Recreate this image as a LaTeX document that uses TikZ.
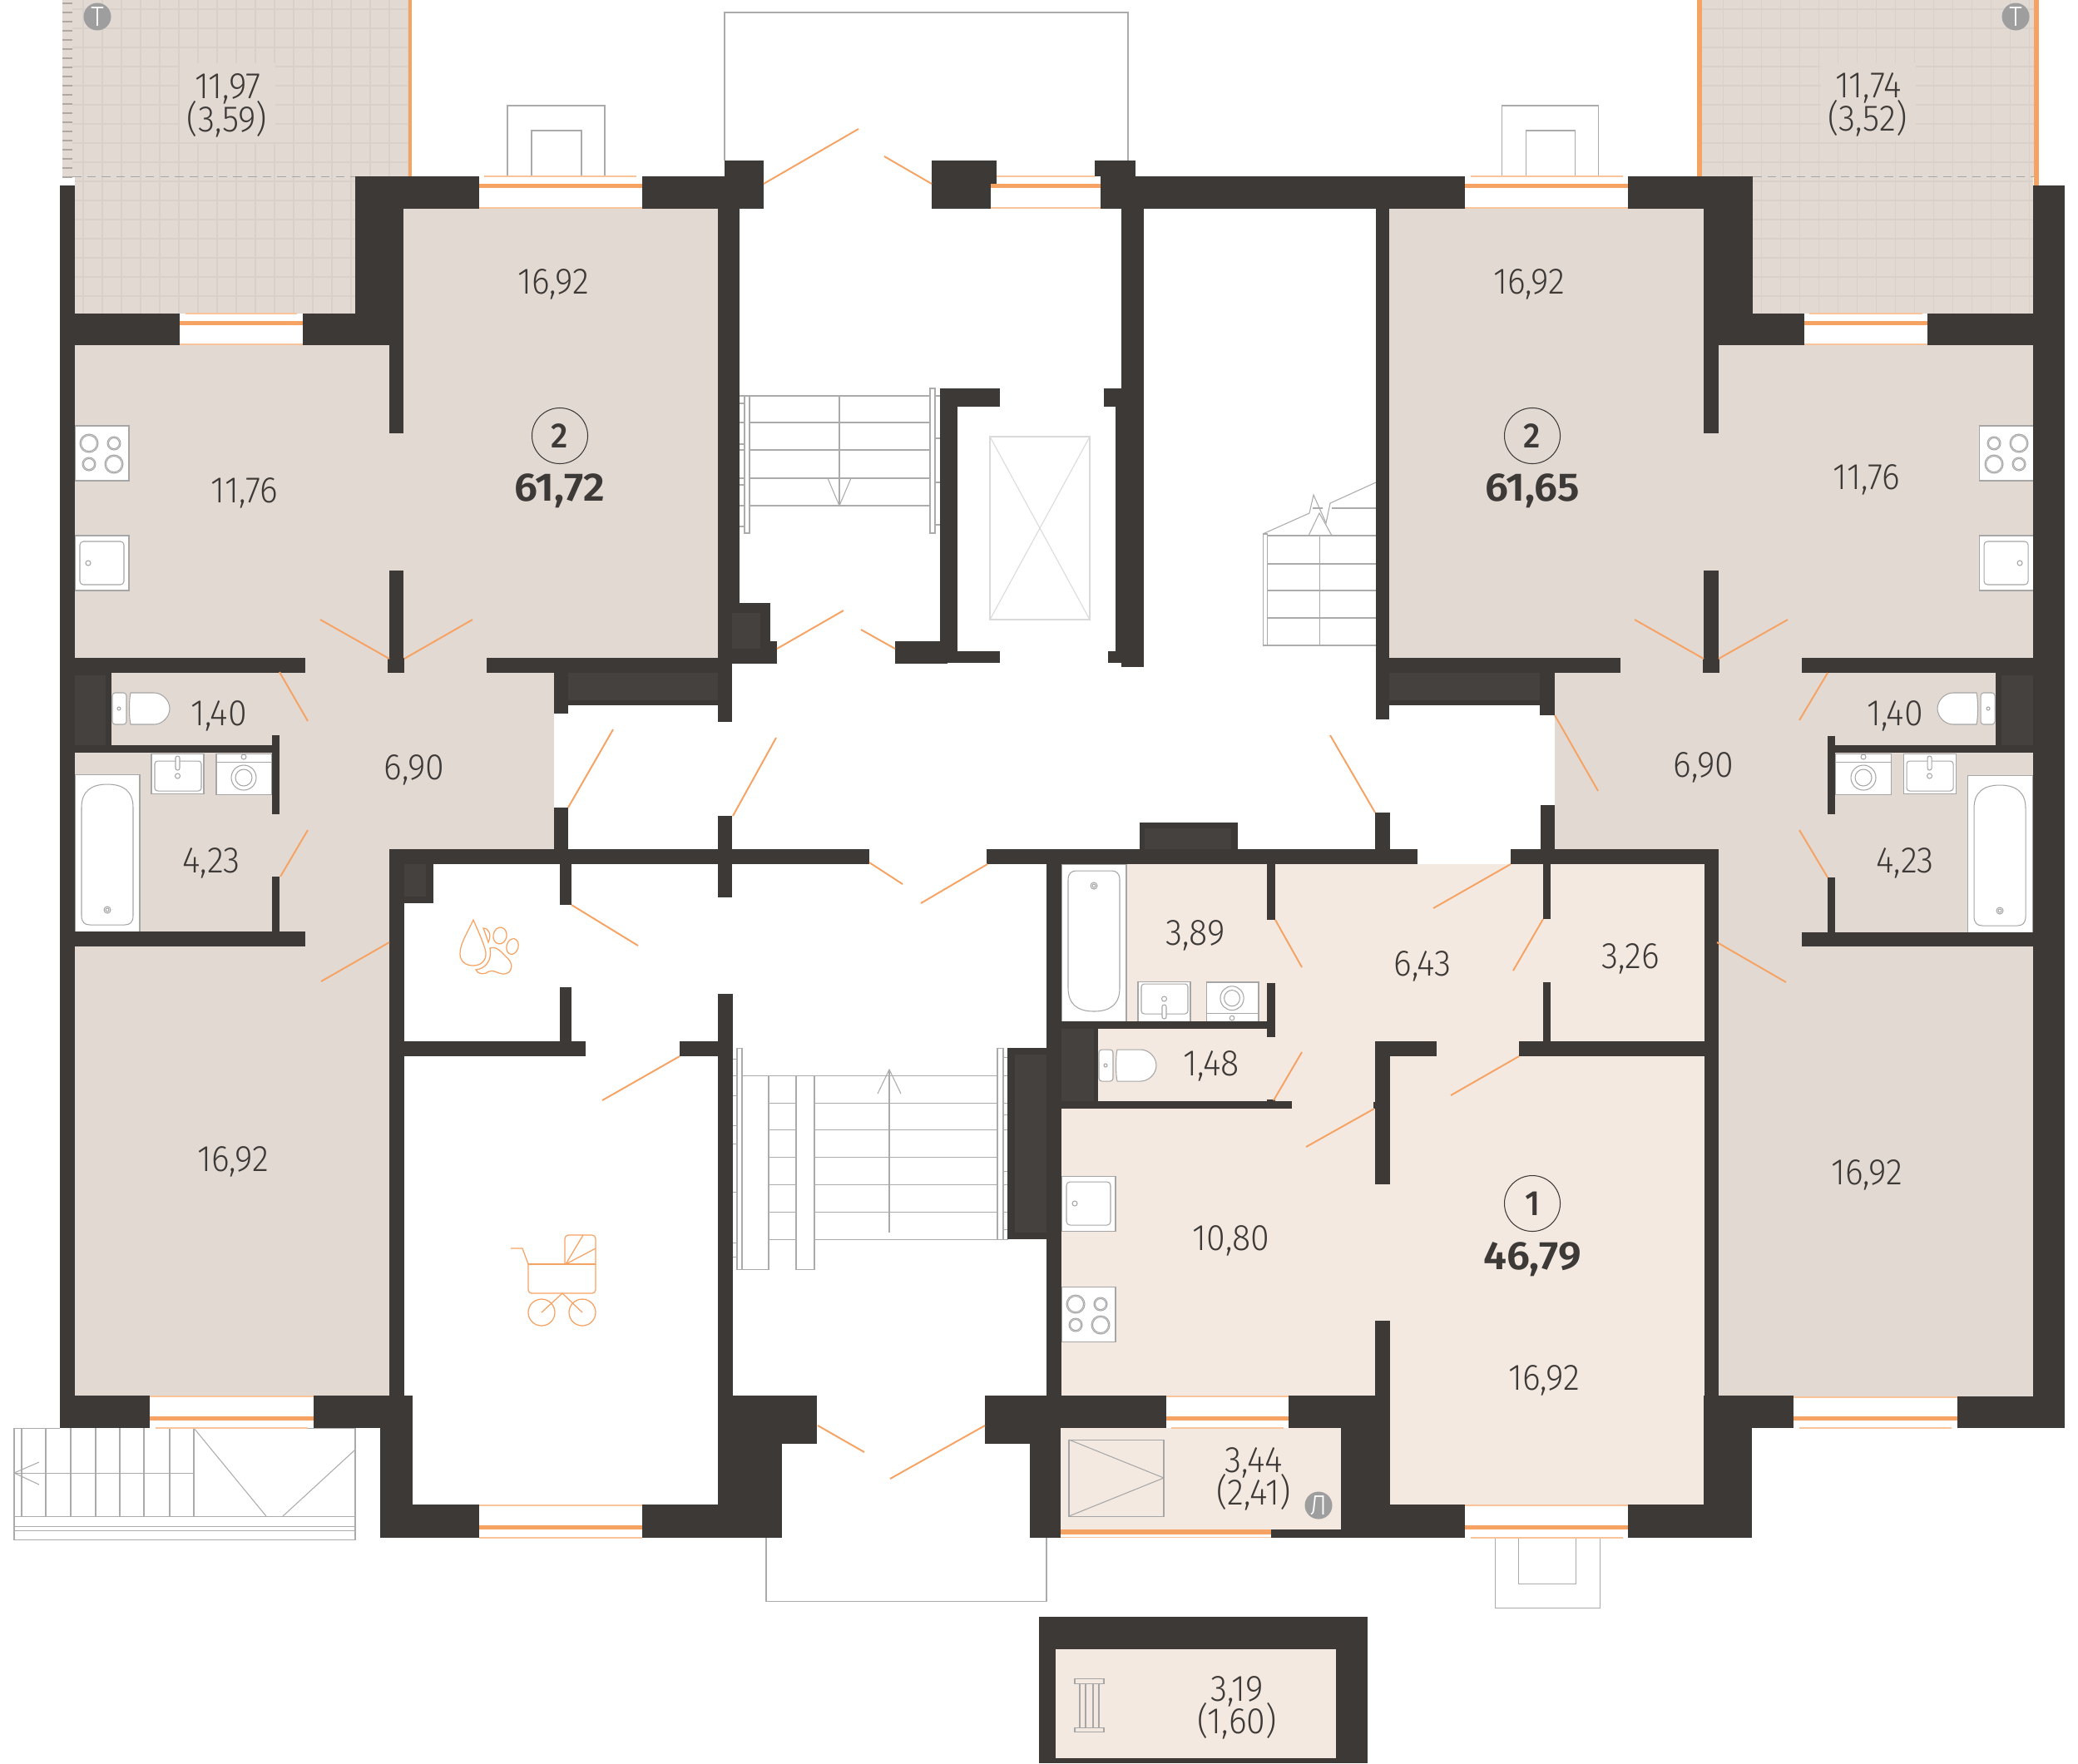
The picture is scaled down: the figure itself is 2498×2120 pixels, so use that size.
\documentclass[tikz,border=0pt]{standalone}
\usepackage{fontspec}
\newfontfamily\labfont[FakeStretch=0.93]{Fira Sans Light}
\newfontfamily\boldlab[FakeStretch=1.05]{Fira Sans SemiBold}
\newfontfamily\numfont[FakeStretch=0.95]{Fira Sans Medium}
\definecolor{wallc}{HTML}{3D3937}
\definecolor{walll}{HTML}{45413F}
\definecolor{roomc}{HTML}{E2D9D3}
\definecolor{roomb}{HTML}{F3E9E1}
\definecolor{gridc}{HTML}{D9D0CA}
\definecolor{orng}{HTML}{F6A262}
\definecolor{orngl}{HTML}{F9C49A}
\definecolor{fixc}{HTML}{A6A6A6}
\definecolor{stairc}{HTML}{ABABAB}
\definecolor{liftc}{HTML}{DADADA}
\definecolor{badge}{HTML}{9E9E9E}
\newcommand{\wl}[4]{\fill[wallc] (#1,#2) rectangle (#3,#4);}
\newcommand{\wlt}[4]{\fill[walll] (#1,#2) rectangle (#3,#4);}
\newcommand{\doorl}[4]{\draw[doorline] (#1,#2) -- (#3,#4);}
\newcommand{\winn}[8]{%
  \fill[white] (#1,#7) rectangle (#2,#8);
  \fill[white] (#3,#5) rectangle (#4,#6);
  \fill[orng] (#1,#6) rectangle (#2,#7);
  \draw[orngl,line width=.5pt] (#3,#5) -- (#4,#5);
  \draw[orngl,line width=.5pt] (#1,#8) -- (#2,#8);}
\newcommand{\fx}[5]{\path[shift={(#1,#2)},xscale=#3,yscale=#4] pic[transform shape] {#5};}
\tikzset{
  doorline/.style={draw=orng,line width=.55pt},
  fixt/.style={draw=fixc,fill=white,line width=.3pt},
  fixo/.style={draw=fixc,line width=.3pt},
  stairl/.style={draw=stairc,line width=.3pt},
  icon/.style={draw=orng,line width=.35pt},
  lab/.style={text=wallc,inner sep=0pt,yshift=-.8pt,font=\labfont\fontsize{12.6}{14}\selectfont},
  big/.style={text=wallc,inner sep=0pt,yshift=-.6pt,font=\boldlab\fontsize{13.6}{15}\selectfont},
  num/.style={text=wallc,inner sep=0pt,font=\numfont\fontsize{12}{14}\selectfont},
  ringc/.style={draw=wallc,line width=.3pt,circle,minimum size=.67cm,inner sep=0pt},
  tag/.style={fill=badge,circle,minimum size=.33cm,inner sep=0pt,text=white,font=\labfont\fontsize{9.5}{10}\selectfont},
  toilet/.pic={
    \filldraw[fixt,rounded corners=1pt] (0,0) rectangle (17,38);
    \draw[fixo] (8,19) circle[radius=2];
    \filldraw[fixt] (22,0) -- (50,0) .. controls (60,0) and (69,9) .. (69,19) .. controls (69,29) and (60,38) .. (50,38) -- (22,38) .. controls (20,30) and (20,8) .. (22,0) -- cycle;
  },
  sinkb/.pic={
    \filldraw[fixt] (0,0) rectangle (63,48);
    \draw[fixo,rounded corners=1pt] (4,9) rectangle (60,45);
    \filldraw[fixt,rounded corners=.7pt] (29,3) rectangle (34,20);
    \draw[fixo] (31.5,27) circle[radius=3];
  },
  washer/.pic={
    \filldraw[fixt] (0,0) rectangle (67,49);
    \draw[fixo] (0,10) -- (67,10);
    \draw[fixo] (33,4) circle[radius=3];
    \draw[fixo] (33,29) circle[radius=15];
    \draw[fixo] (33,29) circle[radius=10];
  },
  bath/.pic={
    \filldraw[fixt] (0,0) rectangle (78,189);
    \draw[fixo] (8,40) .. controls (8,20) and (20,12) .. (39,12) .. controls (58,12) and (70,20) .. (70,40) -- (70,170) .. controls (70,178) and (66,181) .. (60,181) -- (18,181) .. controls (12,181) and (8,178) .. (8,170) -- cycle;
    \draw[fixo] (39,163) circle[radius=4];
    \draw[fixo] (39,163) circle[radius=2];
  },
  cooktop/.pic={
    \filldraw[fixt] (0,0) rectangle (65,66);
    \foreach \cx/\cy/\cr in {17/21/11,47/21/8,17/46/8,47/46/11}{
      \draw[fixo] (\cx,\cy) circle[radius=\cr];
      \draw[fixo] (\cx,\cy) circle[radius=\cr-1.5];
    }
  },
  ksink/.pic={
    \filldraw[fixt] (0,0) rectangle (65,66);
    \draw[fixo,rounded corners=1.2pt] (6,7) rectangle (59,59);
    \draw[fixo] (16,33) circle[radius=3];
  },
  x=0.01cm,y=-0.01cm
}
\begin{document}
\begin{tikzpicture}
\useasboundingbox (0,0) rectangle (2498,2120);
\fill[white] (0,0) rectangle (2498,2120);
% apartment floors
\fill[roomc] (485,251) rectangle (863,791);
\fill[roomc] (90,415) rectangle (485,791);
\fill[roomc] (90,791) rectangle (666,1021);
\fill[roomc] (90,1021) rectangle (468,1678);
\fill[roomc] (1670,251) rectangle (2048,791);
\fill[roomc] (2048,415) rectangle (2444,791);
\fill[roomc] (1869,791) rectangle (2444,1021);
\fill[roomc] (2066,1021) rectangle (2444,1679);
\fill[roomb] (1276,1039) rectangle (2049,1678);
\fill[roomb] (1671,1678) rectangle (2049,1809);
\fill[roomb] (1275,1717) rectangle (1612,1839);
% terraces
\fill[roomc] (75,0) rectangle (491,212);
\fill[roomc] (90,212) rectangle (427,377);
\fill[roomc] (2046,0) rectangle (2445,212);
\fill[roomc] (2107,212) rectangle (2444,377);
\begin{scope}
\clip (87,0) rectangle (491,212) (90,212) rectangle (427,377);
\foreach \k in {0,...,17} \draw[gridc,line width=.3pt] (100+23*\k,0) -- (100+23*\k,377);
\foreach \k in {0,...,15} \draw[gridc,line width=.3pt] (87,11+23*\k) -- (491,11+23*\k);
\end{scope}
\begin{scope}
\clip (2046,0) rectangle (2445,212) (2107,212) rectangle (2444,377);
\foreach \k in {0,...,17} \draw[gridc,line width=.3pt] (2071+23*\k,0) -- (2071+23*\k,377);
\foreach \k in {0,...,15} \draw[gridc,line width=.3pt] (2046,11+23*\k) -- (2445,11+23*\k);
\end{scope}
\fill[roomc] (216,76) rectangle (331,171);
\fill[roomc] (2189,76) rectangle (2303,169);
\foreach \k in {0,...,20} \draw[gridc!80!black,line width=.3pt] (75,4+11*\k) -- (87,4+11*\k);
\draw[fixc,line width=.3pt,dash pattern=on 3pt off 2pt] (87,212.5) -- (427,212.5);
\draw[fixc,line width=.3pt,dash pattern=on 3pt off 2pt] (2107,212.5) -- (2445,212.5);
\fill[orng] (491,0) rectangle (495,212);
\fill[orng] (2040,0) rectangle (2046,212);
\fill[orng] (2445,0) rectangle (2451,223);
% thin outlines outside the building
\draw[stairc,line width=.3pt] (871,193) -- (871,15) -- (1356,15) -- (1356,193);
\draw[stairc,line width=.3pt] (610,212) -- (610,127) -- (727,127) -- (727,212);
\draw[stairc,line width=.3pt] (639,212) -- (639,157) -- (699,157) -- (699,212);
\draw[stairc,line width=.3pt] (1805,212) -- (1805,127) -- (1921,127) -- (1921,212);
\draw[stairc,line width=.3pt] (1834,212) -- (1834,157) -- (1893,157) -- (1893,212);
\draw[stairc,line width=.3pt] (921,1849) -- (921,1925) -- (1258,1925) -- (1258,1849);
\draw[stairc,line width=.3pt] (1797,1849) -- (1797,1933) -- (1923,1933) -- (1923,1849);
\draw[stairc,line width=.3pt] (1825,1849) -- (1825,1904) -- (1894,1904) -- (1894,1849);
% upper left stair
\foreach \yy in {476,508,541,575,608} \draw[stairl] (889,\yy) -- (1118,\yy);
\draw[stairl] (1009,476) -- (1009,608);
\draw[stairl] (995,575) -- (1009,608) -- (1023,575);
\foreach \yy in {485,534,583,633} \draw[stairl] (889,\yy) -- (895,\yy);
\foreach \yy in {476,527,580,631} \draw[stairl] (1124,\yy) -- (1130,\yy);
\filldraw[stairl,fill=white] (895,476) rectangle (901,641);
\filldraw[stairl,fill=white] (1118,467) rectangle (1124,641);
% lift
\draw[liftc,line width=.3pt] (1190,525) rectangle (1310,745);
\draw[liftc,line width=.3pt] (1190,525) -- (1310,745) (1310,525) -- (1190,745);
% upper right stair
\foreach \yy in {644,678,710,743,776} \draw[stairl] (1523,\yy) -- (1654,\yy);
\draw[stairl] (1601,611) -- (1654,611);
\draw[stairl] (1578,611) -- (1590,611);
\draw[stairl] (1586,644) -- (1586,776);
\draw[stairl] (1518,642) rectangle (1523,776);
\draw[stairl] (1518,642) -- (1574,617) -- (1579,595) -- (1594,629) -- (1599,605) -- (1654,580);
\draw[stairl] (1573,644) -- (1586,617) -- (1601,644);
% lower central stair
\draw[stairl] (892,1293) -- (1199,1293);
\foreach \yy in {1326,1358,1391,1424,1457,1490}{\draw[stairl] (924,\yy) -- (957,\yy); \draw[stairl] (979,\yy) -- (1199,\yy);}
\draw[stairl] (924,1293) -- (924,1526) -- (892,1526);
\draw[stairl] (957,1293) -- (957,1526) -- (979,1526) -- (979,1293);
\draw[stairl] (1069,1286) -- (1069,1482);
\draw[stairl] (1055,1315) -- (1069,1286) -- (1083,1315);
\foreach \yy in {1273,1293,1317,1353,1375,1433,1494,1511} \draw[stairl] (881,\yy) -- (886,\yy);
\foreach \yy in {1271,1293,1326,1340,1358,1408,1424,1457,1478,1490} \draw[stairl] (1206,\yy) -- (1212,\yy);
\filldraw[stairl,fill=white] (886,1260) rectangle (892,1526);
\filldraw[stairl,fill=white] (1199,1260) rectangle (1206,1490);
% outer stair at bottom left
\foreach \xx in {26,55,85,115,144,173,204,233} \draw[stairl] (\xx,1717) -- (\xx,1823);
\draw[stairl] (17,1717) -- (72,1717);
\draw[stairl] (17,1717) -- (17,1851) -- (427,1851) -- (427,1717) -- (233,1717);
\draw[stairl] (17,1771) -- (233,1771);
\draw[stairl] (47,1758) -- (17,1771) -- (47,1785);
\draw[stairl] (233,1717) -- (320,1823);
\draw[stairl] (427,1743) -- (340,1823);
\draw[stairl] (17,1823) -- (427,1823);
\draw[stairl] (17,1835) rectangle (427,1840);
% fixtures, left apartment
\fx{135}{833}{1}{1}{toilet}
\fx{182}{906}{1}{1}{sinkb}
\fx{260}{906}{1}{1}{washer}
\fx{90}{931}{1}{1}{bath}
\fx{90}{512}{1}{1}{cooktop}
\fx{90}{644}{1}{1}{ksink}
% fixtures, right apartment
\fx{2398}{833}{-1}{1}{toilet}
\fx{2288}{906}{1}{1}{sinkb}
\fx{2273}{906}{-1}{1}{washer}
\fx{2365}{932}{1}{1}{bath}
\fx{2444}{512}{-1}{1}{cooktop}
\fx{2444}{644}{-1}{1}{ksink}
% fixtures, apartment 1
\fx{1321}{1262}{1}{1}{toilet}
\fx{1368}{1228}{1}{-1}{sinkb}
\fx{1450}{1228}{.94}{-.96}{washer}
\fx{1276}{1228}{1}{-1}{bath}
\fx{1276}{1547}{1}{1}{cooktop}
\fx{1276}{1414}{1}{1}{ksink}
% loggia shaft symbol
\draw[fixo] (1285,1731) rectangle (1399,1823);
\draw[fixo] (1285,1731) -- (1399,1777) -- (1285,1823);
% walls, left part
\wl{72}{223}{90}{1717}
\wl{427}{212}{576}{251}
\wl{427}{212}{485}{415}
\wl{468}{415}{485}{521}
\wl{772}{212}{918}{251}
\wl{871}{193}{918}{212}
\wl{863}{251}{889}{725}
\wl{90}{377}{216}{415}
\wl{364}{377}{468}{415}
\wl{468}{686}{485}{809}
\wl{466}{791}{486}{809}
\wl{90}{791}{367}{809}
\wl{585}{791}{880}{809}
\wl{90}{809}{134}{896}
\wlt{90}{812}{127}{896}
\wl{90}{896}{336}{905}
\wl{327}{884}{336}{979}
\wl{327}{1054}{336}{1120}
\wl{90}{1120}{367}{1138}
% walls, centre
\wl{863}{725}{926}{771}
\wl{863}{771}{934}{798}
\wlt{880}{737}{914}{780}
\wl{863}{791}{880}{868}
\wl{683}{809}{863}{848}
\wlt{683}{809}{863}{842}
\wl{666}{808}{683}{858}
\wl{863}{981}{880}{1079}
\wl{468}{1021}{1045}{1039}
\wl{666}{971}{683}{1021}
\wl{468}{1021}{486}{1717}
\wl{486}{1039}{521}{1086}
\wlt{486}{1039}{512}{1078}
\wl{673}{1039}{687}{1088}
\wl{673}{1187}{687}{1252}
\wl{486}{1252}{704}{1270}
\wl{817}{1252}{863}{1270}
\wl{863}{1195}{881}{1678}
\wl{863}{1021}{880}{1079}
\wl{1120}{193}{1198}{221}
\wl{1120}{212}{1191}{251}
\wl{1316}{193}{1365}{212}
\wl{1323}{212}{1761}{251}
\wl{1348}{251}{1375}{802}
\wl{1327}{467}{1348}{489}
\wl{1341}{489}{1348}{783}
\wl{1332}{783}{1357}{797}
\wl{1130}{467}{1151}{797}
\wl{1130}{467}{1202}{489}
\wl{1151}{783}{1202}{797}
\wl{1076}{771}{1139}{798}
\wl{1654}{212}{1670}{865}
% walls, right part
\wl{1957}{212}{2107}{251}
\wl{2048}{212}{2107}{415}
\wl{2048}{415}{2066}{521}
\wl{2107}{377}{2169}{415}
\wl{2317}{377}{2444}{415}
\wl{2444}{223}{2482}{1717}
\wl{1670}{791}{1948}{809}
\wl{1670}{809}{1851}{848}
\wlt{1670}{809}{1851}{842}
\wl{1851}{791}{1869}{860}
\wl{2166}{791}{2444}{809}
\wl{2048}{686}{2066}{809}
\wl{2047}{791}{2067}{809}
\wl{2399}{809}{2444}{896}
\wlt{2406}{812}{2444}{896}
\wl{2197}{896}{2444}{905}
\wl{2197}{885}{2206}{979}
\wl{2197}{1055}{2206}{1121}
\wl{2166}{1121}{2444}{1138}
% walls, apartment 1
\wl{1186}{1021}{1704}{1039}
\wl{1816}{1021}{2066}{1039}
\wl{1370}{989}{1488}{1021}
\wlt{1376}{996}{1480}{1021}
\wl{1653}{977}{1671}{1021}
\wl{1852}{968}{1869}{1021}
\wl{1258}{1039}{1276}{1678}
\wl{1523}{1039}{1533}{1106}
\wl{1523}{1182}{1533}{1247}
\wl{1276}{1228}{1533}{1237}
\wl{1276}{1237}{1320}{1324}
\wlt{1276}{1237}{1315}{1324}
\wl{1276}{1324}{1553}{1333}
\wl{1523}{1322}{1533}{1333}
\wl{1855}{1021}{1864}{1105}
\wl{1855}{1181}{1864}{1252}
\wl{1826}{1252}{2066}{1270}
\wl{1653}{1252}{1727}{1270}
\wl{1653}{1252}{1671}{1424}
\wl{1651}{1325}{1653}{1333}
\wl{1653}{1588}{1671}{1849}
\wl{2049}{1021}{2066}{1678}
\wl{2048}{1678}{2156}{1717}
\wl{2353}{1679}{2482}{1717}
\wl{2048}{1717}{2106}{1849}
\wl{1957}{1809}{2106}{1849}
\wl{1653}{1809}{1761}{1849}
\wl{1211}{1260}{1258}{1490}
\wlt{1220}{1268}{1258}{1482}
\wl{1184}{1678}{1238}{1736}
\wl{1238}{1678}{1402}{1717}
\wl{1238}{1678}{1275}{1849}
\wl{1549}{1678}{1653}{1717}
\wl{1612}{1717}{1653}{1849}
\wl{1528}{1839}{1612}{1849}
% walls, bottom left
\wl{72}{1678}{180}{1717}
\wl{377}{1678}{496}{1717}
\wl{457}{1717}{496}{1849}
\wl{457}{1809}{576}{1849}
\wl{772}{1809}{940}{1849}
\wl{863}{1736}{940}{1809}
\wl{863}{1678}{982}{1736}
% storage
\wl{1249}{1944}{1644}{2120}
\fill[roomb] (1269,1983) rectangle (1606,2114);
\draw[fixo] (1298,2024) rectangle (1321,2077);
\draw[fixo] (1305,2024) -- (1305,2077) (1314,2024) -- (1314,2077);
\draw[fixo] (1292,2018) rectangle (1327,2024);
\draw[fixo] (1292,2077) rectangle (1327,2082);
% windows
\winn{576}{772}{582}{765}{212}{221}{226}{250}
\winn{216}{364}{223}{357}{377}{386}{391}{414}
\winn{1191}{1323}{1198}{1316}{212}{221}{226}{250}
\winn{1761}{1957}{1768}{1951}{212}{221}{226}{250}
\winn{2169}{2317}{2175}{2311}{377}{386}{391}{414}
\winn{180}{377}{187}{370}{1717}{1708}{1703}{1679}
\winn{576}{772}{576}{772}{1849}{1839}{1834}{1810}
\winn{1402}{1549}{1408}{1543}{1717}{1708}{1703}{1679}
\winn{1761}{1957}{1768}{1951}{1849}{1839}{1834}{1810}
\winn{2156}{2353}{2163}{2346}{1717}{1708}{1703}{1680}
\fill[white] (1275,1839) rectangle (1528,1849);
\fill[orng] (1275,1839) rectangle (1528,1845);
\draw[orngl,line width=.5pt] (1275,1848.5) -- (1528,1848.5);
% doors
\doorl{918}{221}{1032}{155}
\doorl{1063}{188}{1120}{221}
\doorl{934}{780}{1014}{734}
\doorl{1035}{757}{1076}{780}
\doorl{468}{792}{385}{745}
\doorl{486}{792}{568}{745}
\doorl{2048}{792}{1965}{745}
\doorl{2066}{792}{2149}{745}
\doorl{336}{808}{370}{867}
\doorl{370}{998}{337}{1054}
\doorl{468}{1133}{386}{1180}
\doorl{683}{971}{737}{877}
\doorl{881}{981}{933}{887}
\doorl{687}{1088}{767}{1137}
\doorl{817}{1270}{724}{1323}
\doorl{1045}{1037}{1085}{1063}
\doorl{1187}{1039}{1107}{1086}
\doorl{1653}{977}{1599}{884}
\doorl{1869}{860}{1921}{951}
\doorl{1533}{1106}{1565}{1163}
\doorl{1565}{1265}{1531}{1323}
\doorl{1816}{1039}{1723}{1092}
\doorl{1855}{1105}{1819}{1167}
\doorl{1826}{1270}{1744}{1317}
\doorl{1652}{1333}{1570}{1379}
\doorl{2197}{809}{2163}{866}
\doorl{2163}{998}{2197}{1055}
\doorl{2064}{1133}{2147}{1181}
\doorl{983}{1714}{1039}{1746}
\doorl{1184}{1714}{1070}{1778}
% pet icon
\draw[icon] (569,1106) .. controls (560,1125) and (553,1135) .. (553,1147) .. controls (553,1156) and (560,1161) .. (569,1161) .. controls (578,1161) and (585,1155) .. (584,1145) .. controls (582,1135) and (575,1120) .. (569,1106) -- cycle;
\draw[icon] (581,1116) .. controls (588,1116) and (591,1124) .. (587,1133) .. controls (585,1127) and (583,1121) .. (581,1116) -- cycle;
\draw[icon] (601,1125) circle[x radius=8,y radius=10,rotate=-10];
\draw[icon] (616,1138) circle[x radius=7,y radius=9.5,rotate=-15];
\draw[icon] (572,1166) .. controls (583,1165) and (592,1155) .. (589,1140) .. controls (597,1137) and (603,1145) .. (611,1153) .. controls (618,1160) and (615,1172) .. (604,1171) .. controls (597,1170) and (594,1166) .. (588,1168) .. controls (582,1172) and (575,1172) .. (572,1166) -- cycle;
% pram icon
\draw[icon] (614,1501) -- (628,1501) -- (635,1520);
\draw[icon,rounded corners=1.2pt] (635,1520) -- (635,1555) -- (716,1555) -- (716,1520);
\draw[icon] (635,1520) -- (716,1520);
\draw[icon,rounded corners=1.2pt] (679,1520) -- (679,1485) -- (716,1485) -- (716,1520);
\draw[icon] (680,1520) -- (701,1485) (680,1520) -- (716,1501);
\draw[icon] (651,1578) -- (676,1555) -- (700,1578);
\draw[icon] (651,1578) circle[radius=16];
\draw[icon] (700,1578) circle[radius=16];
% labels
\node[lab] (t1a) at (274,104) {11,97};
\node[lab] (t1b) at (273,140) {(3,59)};
\node[lab] (t2a) at (2246,103) {11,74};
\node[lab] (t2b) at (2245,139) {(3,52)};
\node[lab] (r1) at (665,339) {16,92};
\node[lab] (r2) at (1838,339) {16,92};
\node[lab] (k1) at (294,590) {11,76};
\node[lab] (k2) at (2244,574) {11,76};
\node[lab] (wc1) at (263,858) {1,40};
\node[lab] (wc2) at (2278,858) {1,40};
\node[lab] (h1) at (498,923) {6,90};
\node[lab] (h2) at (2048,920) {6,90};
\node[lab] (b1) at (254,1035) {4,23};
\node[lab] (b2) at (2290,1035) {4,23};
\node[lab] (r3) at (280,1394) {16,92};
\node[lab] (r4) at (2244,1410) {16,92};
\node[lab] (b3) at (1437,1122) {3,89};
\node[lab] (h3) at (1710,1159) {6,43};
\node[lab] (s3) at (1960,1150) {3,26};
\node[lab] (wc3) at (1456,1279) {1,48};
\node[lab] (k3) at (1480,1489) {10,80};
\node[lab] (r5) at (1856,1657) {16,92};
\node[lab] (lg1) at (1507,1756) {3,44};
\node[lab] (lg2) at (1507,1791) {(2,41)};
\node[lab] (st1) at (1487,2031) {3,19};
\node[lab] (st2) at (1487,2066) {(1,60)};
\node[ringc] (c1) at (673,524) {};
\node[num] (n1) at (673,524) {2};
\node[big] (a1) at (673,588) {61,72};
\node[ringc] (c2) at (1842,524) {};
\node[num] (n2) at (1842,524) {2};
\node[big] (a2) at (1842,588) {61,65};
\node[ringc] (c3) at (1842,1447) {};
\node[num] (n3) at (1842,1447) {1};
\node[big] (a3) at (1842,1512) {46,79};
\node[tag] (tg1) at (117,20) {Т};
\node[tag] (tg2) at (2423,20) {Т};
\node[tag] (tg3) at (1585,1810) {Л};
\end{tikzpicture}
\end{document}
